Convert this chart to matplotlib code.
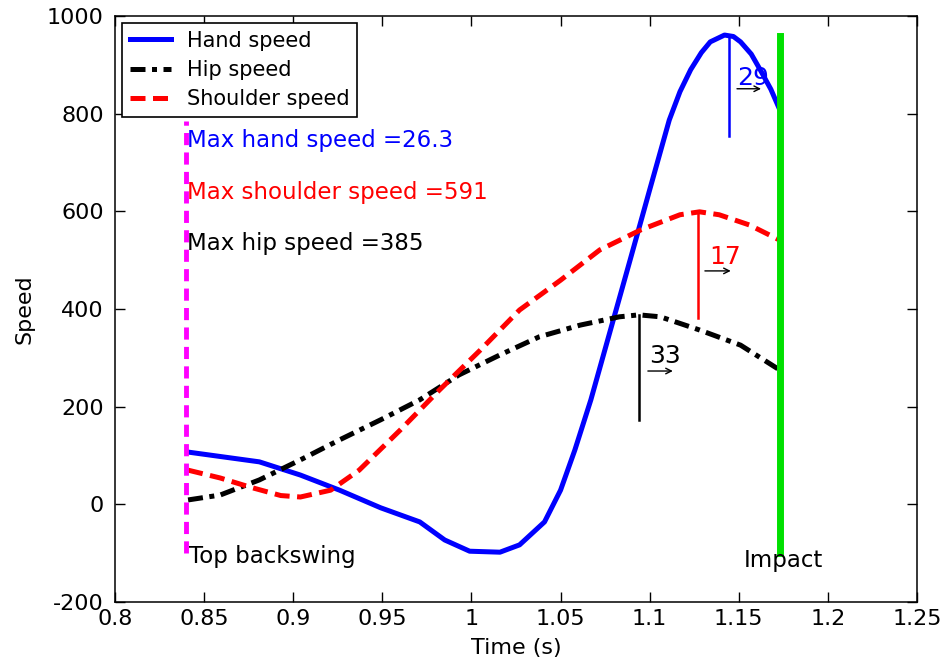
import matplotlib
matplotlib.use('Agg')
import matplotlib.pyplot as plt
import numpy as np

plt.rcParams['font.family'] = ['DejaVu Sans']
plt.rcParams['axes.unicode_minus'] = False

# hand speed
t_hand = [0.841, 0.865, 0.881, 0.904, 0.926, 0.949, 0.971, 0.985, 0.999, 1.016,
          1.027, 1.041, 1.050, 1.058, 1.067, 1.078, 1.089, 1.100, 1.111, 1.117,
          1.123, 1.129, 1.134, 1.142, 1.147, 1.151, 1.157, 1.162, 1.168, 1.173]
v_hand = [107, 95, 87, 60, 29, -7, -36, -73, -96, -98,
          -83, -36, 29, 111, 214, 357, 500, 644, 787, 845,
          890, 925, 947, 961, 958, 947, 922, 890, 850, 808]

# shoulder speed
t_sh = [0.841, 0.859, 0.876, 0.893, 0.904, 0.921, 0.937, 0.960, 0.982, 1.005,
        1.027, 1.050, 1.072, 1.095, 1.117, 1.128, 1.139, 1.156, 1.173]
v_sh = [70, 54, 35, 18, 15, 29, 70, 152, 234, 316,
        398, 459, 521, 562, 593, 599, 593, 572, 541]

# hip speed
t_hip = [0.841, 0.859, 0.881, 0.904, 0.926, 0.949, 0.971, 0.993, 1.016, 1.038,
         1.061, 1.083, 1.094, 1.106, 1.128, 1.151, 1.173]
v_hip = [9, 19, 50, 91, 132, 173, 214, 265, 306, 343,
         367, 384, 388, 384, 357, 326, 275]

t_top = 0.84
t_impact = 1.173

# peak markers: time, top, bottom, label, colour, label pos, arrow (t0, t1, v)
peaks = [
    (1.1445, 958, 754, '29', 'blue', (1.1490, 873), (1.1490, 1.1625, 851)),
    (1.127, 599, 382, '17', 'red', (1.1335, 506), (1.1310, 1.1455, 478)),
    (1.094, 388, 173, '33', 'black', (1.0995, 304), (1.0990, 1.1130, 273)),
]

fig = plt.figure(figsize=(9.43, 6.70), dpi=100)
ax = fig.add_axes([115/943, 1-602/670, 802/943, 586/670])

ax.plot(t_hand, v_hand, color='blue', lw=3.6, label='Hand speed')
ax.plot(t_hip, v_hip, color='black', lw=3.6, dashes=(3, 1.3, 1, 1.3), label='Hip speed')
ax.plot(t_sh, v_sh, color='red', lw=3.6, dashes=(3, 1.5), label='Shoulder speed')

ax.plot([t_top, t_top], [-100, 785], color='magenta', lw=3.5, dashes=(2.5, 1.5))
ax.plot([t_impact, t_impact], [-100, 960], color='#00e000', lw=5)

for tp, top, bot, lab, c, (lx, ly), (a0, a1, av) in peaks:
    ax.plot([tp, tp], [top, bot], color=c, lw=1.8)
    ax.text(lx, ly, lab, color=c, fontsize=18, va='center')
    ax.annotate('', xy=(a1, av), xytext=(a0, av),
                arrowprops=dict(arrowstyle='->', color='black', lw=1,
                                shrinkA=0, shrinkB=0, mutation_scale=10))

ax.text(0.8405, 746, 'Max hand speed =26.3', color='blue', fontsize=16.5, va='center')
ax.text(0.8405, 638, 'Max shoulder speed =591', color='red', fontsize=16.5, va='center')
ax.text(0.8405, 535, 'Max hip speed =385', color='black', fontsize=16.5, va='center')
ax.text(0.8415, -107, 'Top backswing', color='black', fontsize=16.5, va='center')
ax.text(1.153, -115, 'Impact', color='black', fontsize=16.5, va='center')

ax.set_xlim(0.8, 1.25)
ax.set_ylim(-200, 1000)
ax.set_xticks(np.arange(0.8, 1.2501, 0.05))
ax.set_xticklabels(['0.8', '0.85', '0.9', '0.95', '1', '1.05', '1.1', '1.15', '1.2', '1.25'])
ax.set_yticks(np.arange(-200, 1001, 200))
ax.tick_params(direction='in', top=True, right=True, labelsize=16, length=7, width=1)
ax.tick_params(axis='x', pad=5)
ax.tick_params(axis='y', pad=8)
for s in ax.spines.values():
    s.set_linewidth(1.1)
ax.set_xlabel('Time (s)', fontsize=16)
ax.set_ylabel('Speed', fontsize=16)
ax.xaxis.set_label_coords(0.5, -0.062)
ax.yaxis.set_label_coords(-0.1, 0.5)

leg = ax.legend(loc='upper left', fontsize=15, fancybox=False, edgecolor='black',
                handlelength=2.0, handletextpad=0.75, borderaxespad=0.35,
                labelspacing=0.45, borderpad=0.35, framealpha=1)
leg.get_frame().set_linewidth(1.2)

fig.savefig('out.png', dpi=100)
